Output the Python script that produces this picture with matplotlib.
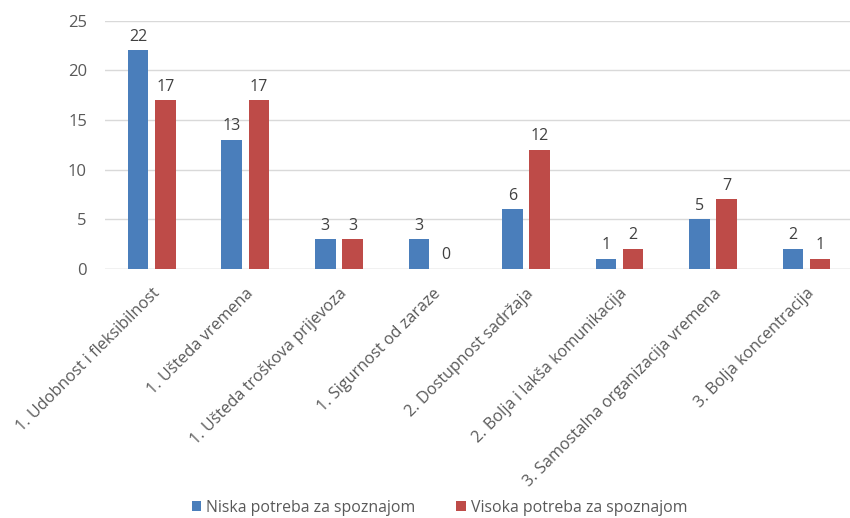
import matplotlib
matplotlib.use("Agg")
import matplotlib.pyplot as plt
import numpy as np

categories = [
    "1. Udobnost i fleksibilnost",
    "1. Ušteda vremena",
    "1. Ušteda troškova prijevoza",
    "1. Sigurnost od zaraze",
    "2. Dostupnost sadržaja",
    "2. Bolja i lakša komunikacija",
    "3. Samostalna organizacija vremena",
    "3. Bolja koncentracija",
]
niska = [22, 13, 3, 3, 6, 1, 5, 2]
visoka = [17, 17, 3, 0, 12, 2, 7, 1]
series_names = ["Niska potreba za spoznajom", "Visoka potreba za spoznajom"]
y_ticks = [0, 5, 10, 15, 20, 25]

plt.rcParams["font.family"] = ["Open Sans", "DejaVu Sans"]
text_color = "#595959"
blue = "#4a7ebb"
red = "#be4b48"

fig = plt.figure(figsize=(8.5, 5.18), dpi=100)
ax = fig.add_axes([0.1235, 0.481, 0.8805, 0.479])

x = np.arange(len(categories))
w = 0.22
off = 0.145
b1 = ax.bar(x - off, niska, w, color=blue, label=series_names[0], zorder=3)
b2 = ax.bar(x + off, visoka, w, color=red, label=series_names[1], zorder=3)

for bars, vals in ((b1, niska), (b2, visoka)):
    for rect, v in zip(bars, vals):
        ax.annotate(str(v), (rect.get_x() + rect.get_width() / 2, v),
                    xytext=(0, 4), textcoords="offset points",
                    ha="center", va="bottom", fontsize=11.5, color="#404040")

ax.set_xlim(-0.5, len(categories) - 0.5)
ax.set_ylim(0, 25)
ax.set_yticks(y_ticks)
ax.yaxis.grid(True, color="#d9d9d9", linewidth=1, zorder=0)
ax.set_axisbelow(True)
for s in ax.spines.values():
    s.set_visible(False)
ax.axhline(0, color="#d9d9d9", linewidth=1, zorder=1)
ax.tick_params(axis="both", length=0, colors=text_color, labelsize=12)
ax.tick_params(axis="y", pad=13)
ax.set_xticks(x)
ax.set_xticklabels(categories, rotation=45, ha="right", rotation_mode="anchor",
                   fontsize=11.7, color=text_color)
ax.tick_params(axis="x", pad=12)

fig.legend(handles=[b1, b2], labels=series_names, loc="center",
           bbox_to_anchor=(0.517, 0.02), ncol=2, frameon=False,
           fontsize=11.4, handlelength=0.6, handleheight=0.6,
           handletextpad=0.3, columnspacing=2.6, labelcolor=text_color)

fig.savefig("out.png", dpi=100)
